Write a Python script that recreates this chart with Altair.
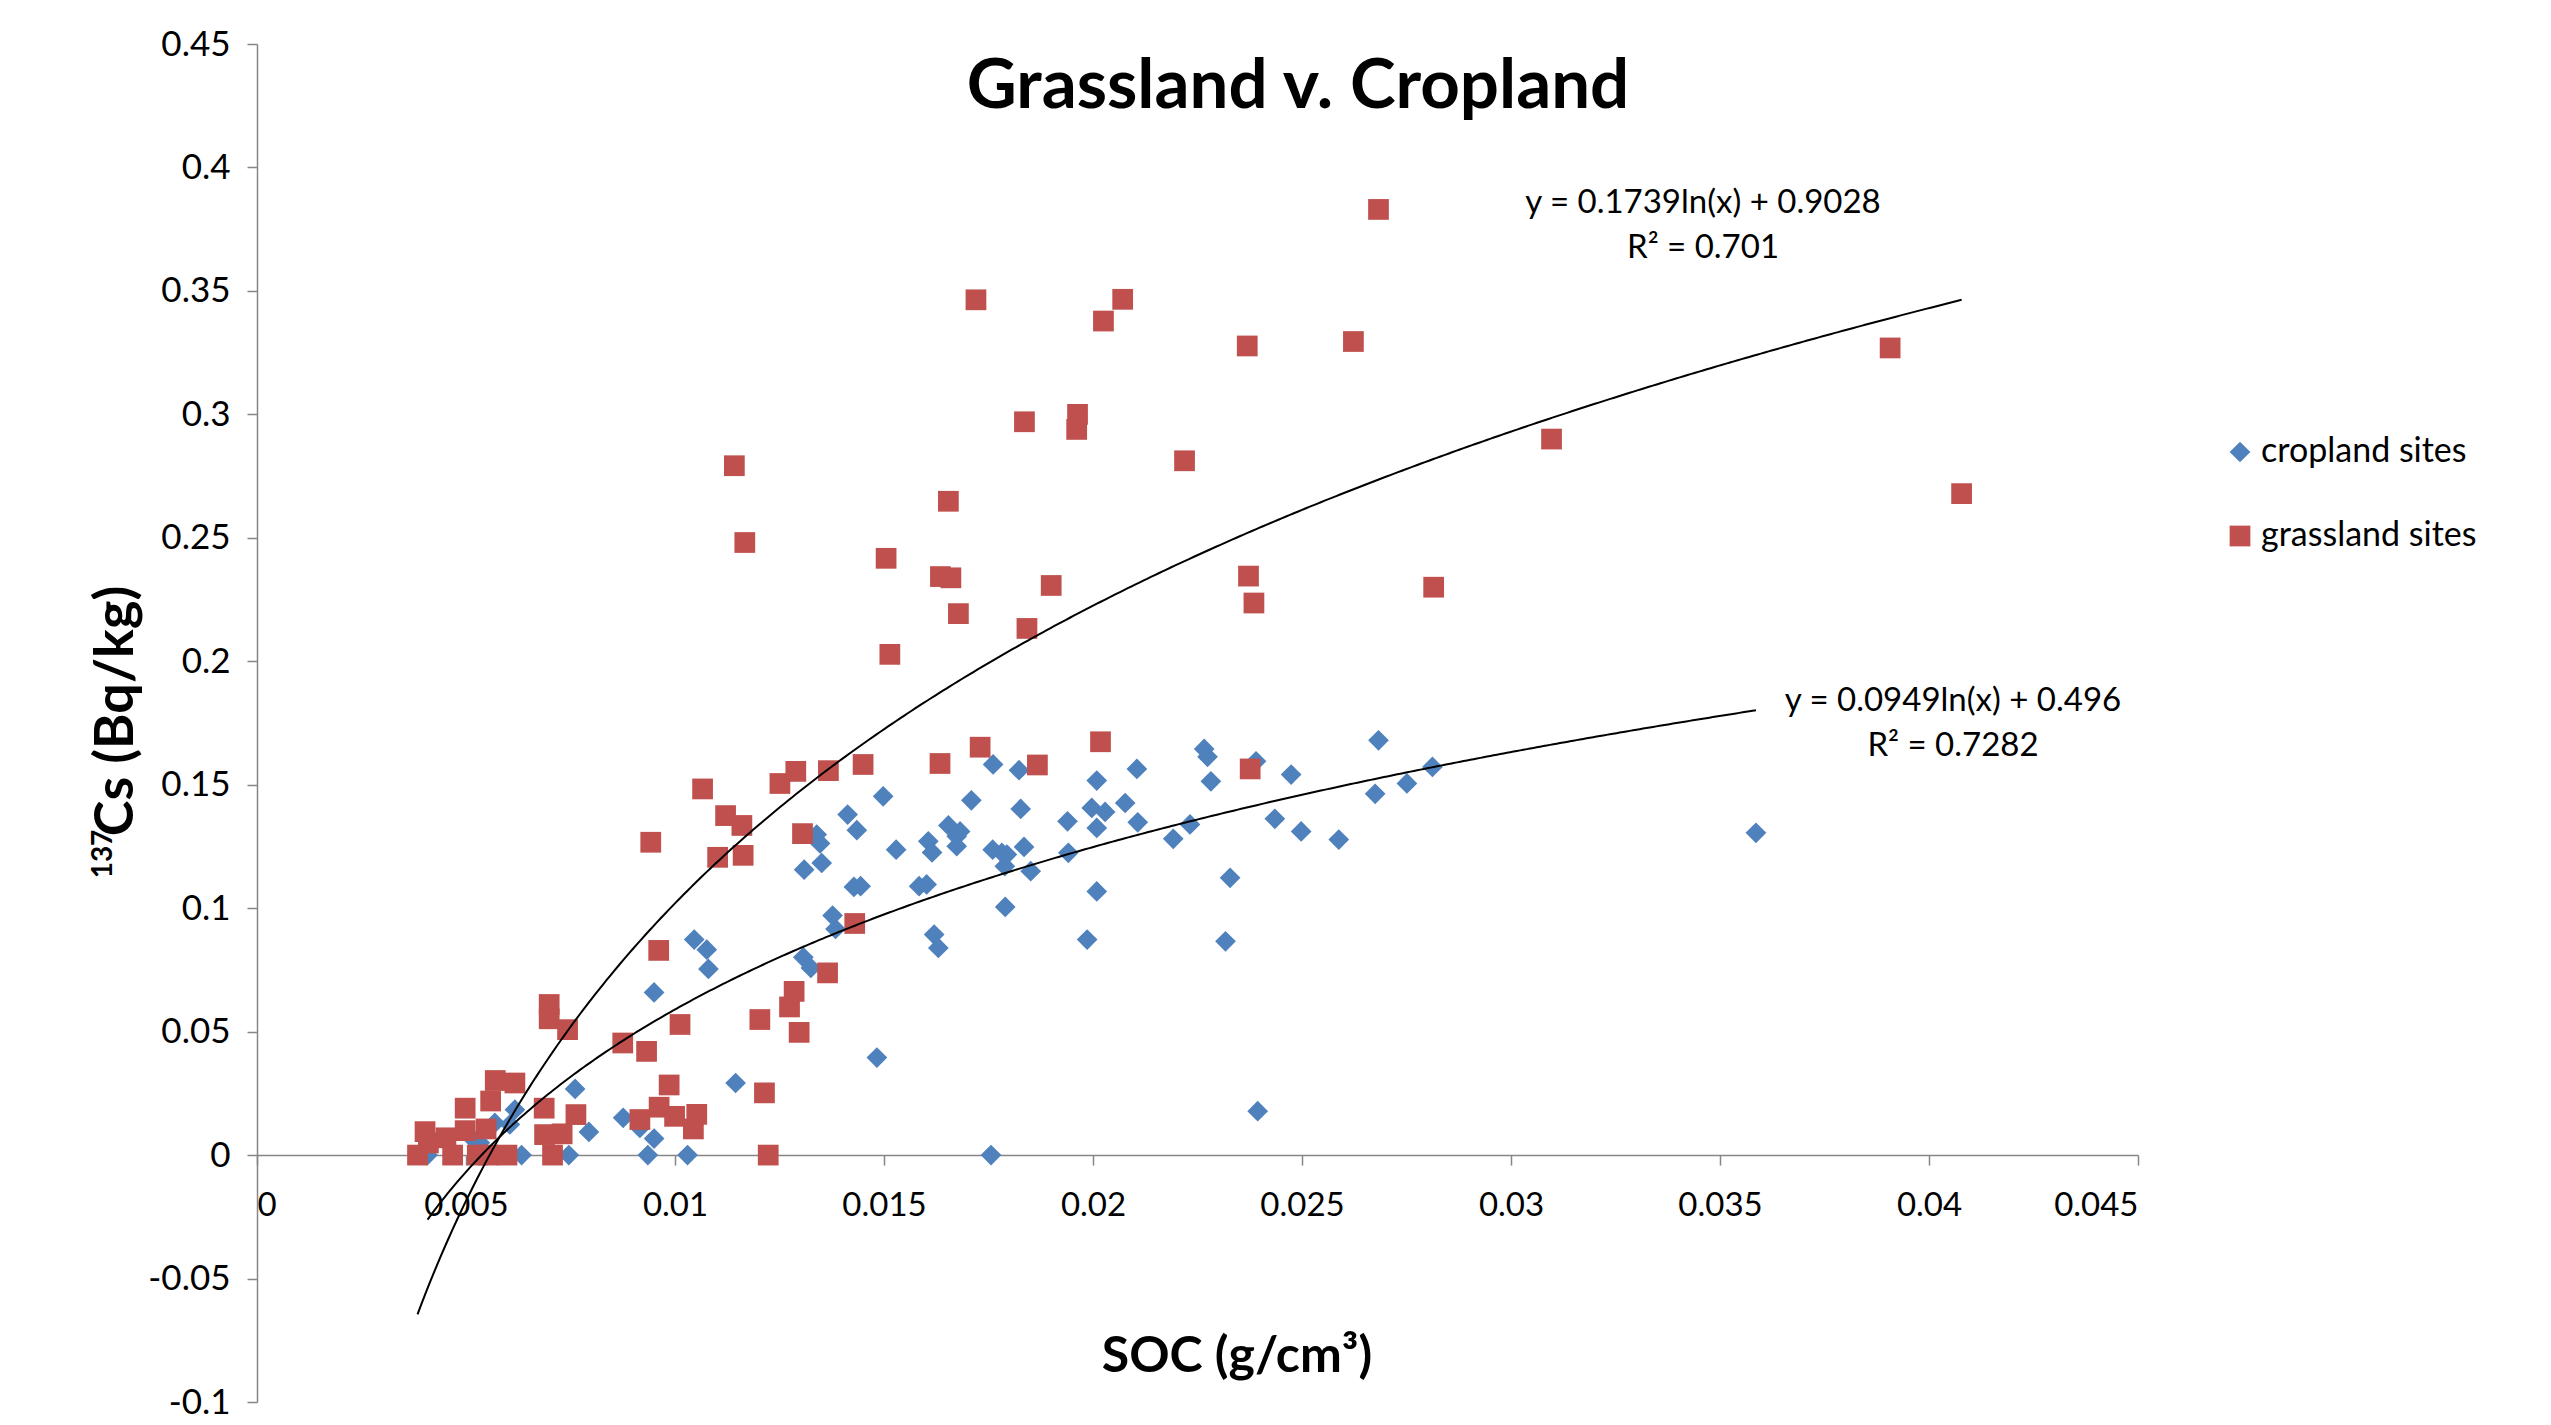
import altair as alt
import pandas as pd

# ---------------- data ----------------
crop_x = [0.00408, 0.0051, 0.00533, 0.00569, 0.00605, 0.00617, 0.00633, 0.00746, 0.00761, 0.00794,
          0.00876, 0.00916, 0.00935, 0.0095, 0.0103, 0.01145, 0.0095, 0.01046, 0.01076, 0.0108,
          0.01307, 0.01325, 0.01377, 0.01384, 0.01483, 0.01498, 0.01413, 0.01435, 0.01339, 0.01347,
          0.01351, 0.01309, 0.01529, 0.01606, 0.01615, 0.01654, 0.01682, 0.01674, 0.01674, 0.0176,
          0.01782, 0.01794, 0.01789, 0.01835, 0.01851, 0.01428, 0.01444, 0.01584, 0.01602, 0.0179,
          0.0162, 0.0163, 0.01761, 0.01823, 0.01709, 0.01827, 0.02009, 0.01997, 0.02009, 0.01939,
          0.01941, 0.02009, 0.01986, 0.02683, 0.02266, 0.02274, 0.0239, 0.02812, 0.02105, 0.02474,
          0.02282, 0.02751, 0.02675, 0.02077, 0.02029, 0.02107, 0.02232, 0.02435, 0.02498, 0.02588,
          0.02192, 0.02328, 0.02317, 0.03586, 0.02394, 0.01756]
crop_y = [0.0, 0.0076, 0.005, 0.013, 0.0124, 0.0184, 0.0, 0.0, 0.0268, 0.0094,
          0.0151, 0.011, 0.0, 0.0067, 0.0, 0.0292, 0.0659, 0.0873, 0.0832, 0.0754,
          0.0801, 0.0758, 0.097, 0.0916, 0.0395, 0.1453, 0.1379, 0.1316, 0.1298, 0.1262,
          0.1183, 0.1156, 0.1237, 0.1271, 0.1226, 0.1335, 0.1311, 0.1291, 0.1251, 0.1237,
          0.1224, 0.1217, 0.117, 0.1248, 0.115, 0.1086, 0.1089, 0.1089, 0.1096, 0.1005,
          0.0893, 0.0839, 0.1582, 0.1559, 0.1437, 0.1402, 0.1517, 0.1406, 0.1325, 0.1352,
          0.1224, 0.1068, 0.0873, 0.168, 0.1645, 0.1613, 0.1595, 0.1572, 0.1564, 0.1541,
          0.1514, 0.1505, 0.1463, 0.1426, 0.139, 0.1348, 0.1339, 0.1362, 0.1311, 0.1278,
          0.1281, 0.1123, 0.0866, 0.1305, 0.0178, 0.0]

grass_x = [0.02683, 0.0172, 0.02071, 0.02025, 0.02369, 0.02623, 0.03907, 0.01963, 0.01836, 0.01961,
           0.03097, 0.02219, 0.01142, 0.04078, 0.01654, 0.01167, 0.01505, 0.01635, 0.0166, 0.02372,
           0.019, 0.02815, 0.02385, 0.01678, 0.01842, 0.01514, 0.02018, 0.0173, 0.01634, 0.01867,
           0.0145, 0.02376, 0.01367, 0.01289, 0.01251, 0.01066, 0.01121, 0.0116, 0.01305, 0.00942,
           0.01102, 0.01163, 0.0143, 0.00961, 0.01365, 0.01285, 0.01274, 0.00699, 0.00699, 0.01203,
           0.00743, 0.01012, 0.01297, 0.00875, 0.00932, 0.0057, 0.00617, 0.00986, 0.00559, 0.01214,
           0.00498, 0.00687, 0.00962, 0.00763, 0.01052, 0.00916, 0.00999, 0.00548, 0.00402, 0.00498,
           0.00452, 0.0041, 0.00688, 0.0073, 0.01044, 0.00384, 0.00468, 0.00527, 0.00553, 0.00598,
           0.00707, 0.01223]
grass_y = [0.383, 0.3464, 0.3466, 0.3378, 0.3277, 0.3295, 0.3269, 0.3, 0.297, 0.2939,
           0.29, 0.2812, 0.2792, 0.2679, 0.2648, 0.2481, 0.2417, 0.2343, 0.2338, 0.2345,
           0.2307, 0.23, 0.2236, 0.2193, 0.2133, 0.2028, 0.1674, 0.1652, 0.1586, 0.158,
           0.1582, 0.1564, 0.1557, 0.1554, 0.1505, 0.1483, 0.1375, 0.1335, 0.1302, 0.1267,
           0.1206, 0.1214, 0.0938, 0.0829, 0.0738, 0.0663, 0.06, 0.061, 0.0552, 0.0549,
           0.0508, 0.0529, 0.0497, 0.0454, 0.042, 0.0302, 0.0292, 0.0284, 0.0219, 0.0252,
           0.019, 0.019, 0.0194, 0.0164, 0.0165, 0.0144, 0.0157, 0.0106, 0.0095, 0.0099,
           0.007, 0.0049, 0.0083, 0.0086, 0.0106, 0.0, 0.0, 0.0, 0.0, 0.0,
           0.0, 0.0]

series_names = ["cropland sites", "grassland sites"]
series_colors = ["#4F81BD", "#C0504D"]
series_shapes = ["diamond", "square"]

# logarithmic trendlines as printed on the chart: y = a*ln(x) + b
grass_fit = {"a": 0.1739, "b": 0.9028, "r2": "0.701"}
crop_fit = {"a": 0.0949, "b": 0.496, "r2": "0.7282"}

x_ticks = [0, 0.005, 0.01, 0.015, 0.02, 0.025, 0.03, 0.035, 0.04, 0.045]
y_ticks = [-0.1, -0.05, 0, 0.05, 0.1, 0.15, 0.2, 0.25, 0.3, 0.35, 0.4, 0.45]
x_domain = [0, 0.045]
y_domain = [-0.1, 0.45]

title_text = "Grassland v. Cropland"
x_title = "SOC (g/cm\u00b3)"
y_title_sup = "137"
y_title_main = "Cs (Bq/kg)"

# ---------------- layout ----------------
W, H = 1881, 1358
FONT = "Lato"
AXIS_GRAY = "#868686"
MARK_SIZE = 430

points = pd.DataFrame({
    "x": crop_x + grass_x,
    "y": crop_y + grass_y,
    "series": [series_names[0]] * len(crop_x) + [series_names[1]] * len(grass_x),
})

xs = alt.Scale(domain=x_domain, nice=False, zero=False)
ys = alt.Scale(domain=y_domain, nice=False, zero=False)

zero_offset = -H * (0 - y_domain[0]) / (y_domain[1] - y_domain[0])

x_axis = alt.Axis(values=x_ticks, labelExpr="'' + datum.value", title=None, grid=False,
                  offset=zero_offset, domainColor=AXIS_GRAY, tickColor=AXIS_GRAY,
                  domainWidth=1.5, tickWidth=1.5, tickSize=10, labelPadding=24,
                  labelFont=FONT, labelFontSize=33, labelColor="black", labelOverlap=False)
y_axis = alt.Axis(values=y_ticks, labelExpr="'' + datum.value", title=None, grid=False,
                  domainColor=AXIS_GRAY, tickColor=AXIS_GRAY, domainWidth=1.5, tickWidth=1.5,
                  tickSize=10, labelPadding=17, labelFont=FONT, labelFontSize=35,
                  labelColor="black", labelOverlap=False)

scatter = alt.Chart(points).mark_point(filled=True, size=MARK_SIZE, opacity=1, strokeWidth=0).encode(
    x=alt.X("x:Q", scale=xs, axis=x_axis),
    y=alt.Y("y:Q", scale=ys, axis=y_axis),
    color=alt.Color("series:N", scale=alt.Scale(domain=series_names, range=series_colors),
                    legend=alt.Legend(title=None, orient="none", legendX=1966, legendY=391,
                                      labelFont=FONT, labelFontSize=34, labelColor="black",
                                      labelLimit=0, symbolSize=MARK_SIZE, rowPadding=50,
                                      labelOffset=4, symbolStrokeWidth=0, symbolOpacity=1)),
    shape=alt.Shape("series:N", scale=alt.Scale(domain=series_names, range=series_shapes)),
)


def trend(fit, xv):
    lo, hi = min(xv), max(xv)
    step = (hi - lo) / 400
    return alt.Chart(alt.sequence(lo, hi + step / 2, step, as_="x")).transform_calculate(
        y=f"{fit['a']} * log(datum.x) + {fit['b']}"
    ).mark_line(color="black", strokeWidth=2).encode(
        x=alt.X("x:Q", scale=xs, axis=x_axis),
        y=alt.Y("y:Q", scale=ys, axis=y_axis),
    )


line_g = trend(grass_fit, grass_x)
line_c = trend(crop_fit, crop_x)


def label(text, px, py, size, weight="normal", angle=0):
    return alt.Chart(pd.DataFrame({"t": [text]})).mark_text(
        font=FONT, fontSize=size, fontWeight=weight, color="black", angle=angle,
        align="center", baseline="middle"
    ).encode(text="t:N", x=alt.value(px), y=alt.value(py))


eq_g = f"y = {grass_fit['a']}ln(x) + {grass_fit['b']}"
eq_c = f"y = {crop_fit['a']}ln(x) + {crop_fit['b']}"

texts = [
    label(title_text, 1041, 43, 69, "bold"),
    label(x_title, 980, 1313, 50, "bold"),
    label(y_title_main, -140, 667, 54, "bold", 270),
    label(y_title_sup, -153, 810, 28, "bold", 270),
    label(eq_g, 1446, 159, 33),
    label(f"R\u00b2 = {grass_fit['r2']}", 1446, 204, 33),
    label(eq_c, 1696, 657, 33),
    label(f"R\u00b2 = {crop_fit['r2']}", 1696, 702, 33),
]

chart = alt.layer(scatter, line_g, line_c, *texts).properties(
    width=W, height=H,
    autosize=alt.AutoSizeParams(type="none"),
    padding={"left": 257, "top": 44, "right": 2551 - 257 - W, "bottom": 1425 - 44 - H},
    background="white",
).configure_view(stroke=None)

chart.save("out.html", embed_options={"renderer": "svg", "actions": False})
